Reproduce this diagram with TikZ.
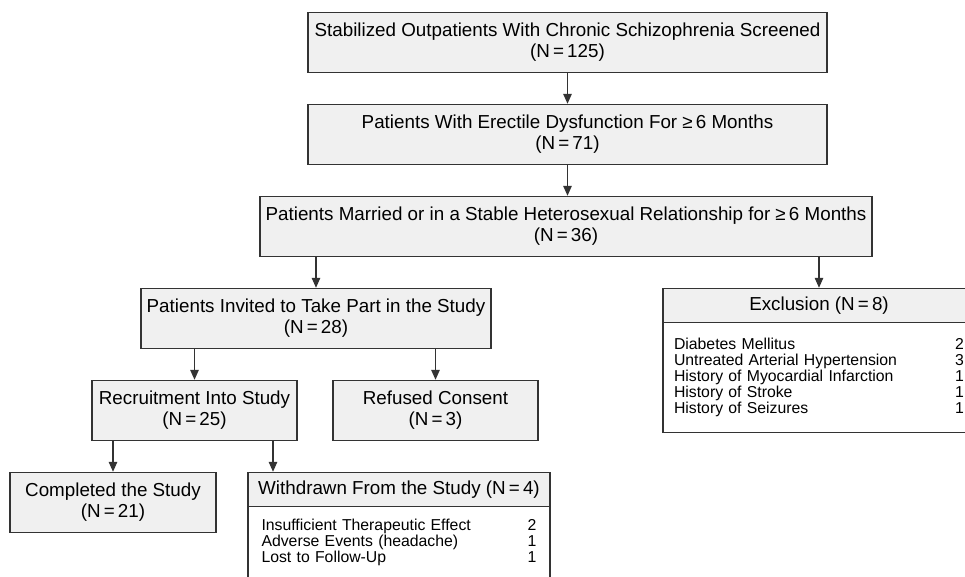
\documentclass[tikz,border=0pt]{standalone}
\usepackage{fontspec}
\setmainfont{Liberation Sans}
\usepackage{tikz}
\usetikzlibrary{positioning,arrows.meta}
\tikzset{
  block/.style={rectangle, draw=edge, fill=panel, line width=1.4pt, minimum height=60pt,
                inner sep=0pt, align=center, font=\fontsize{18.8}{21}\selectfont},
  head/.style={block, minimum height=34pt},
  list/.style={rectangle, draw=edge, fill=white, line width=1.4pt, inner sep=0pt,
               align=left, font=\fontsize{15.8}{16}\selectfont},
  arr/.style={-{Triangle[length=10pt, width=8.5pt]}, line width=1.3pt, draw=edge},
}
\definecolor{edge}{HTML}{333333}
\definecolor{panel}{HTML}{F0F0F0}
\begin{document}
\begin{tikzpicture}[x=1pt, y=-1pt, node distance=30.6pt]
    \clip (0,0) rectangle (965,576);
    \node[block, minimum width=519pt] (screened) at (567.5,42.5)
      {Stabilized Outpatients With Chronic Schizophrenia Screened\\(N\,=\,125)};
    \node[block, minimum width=519pt, below=of screened] (erectile)
      {Patients With Erectile Dysfunction For ≥\,6 Months\\(N\,=\,71)};
    \node[block, minimum width=612pt, below=of erectile, xshift=-1.5pt] (married)
      {Patients Married or in a Stable Heterosexual Relationship for ≥\,6 Months\\(N\,=\,36)};
    \node[block, minimum width=350pt, below=of married, xshift=-250pt] (invited)
      {Patients Invited to Take Part in the Study\\(N\,=\,28)};
    \node[head, minimum width=312pt, below=of married, xshift=253pt] (exclhead)
      {Exclusion (N\,=\,8)};
    \node[list, minimum width=312pt, minimum height=110pt, text width=290pt,
          below=-1.4pt of exclhead] (excllist)
      {Diabetes Mellitus\hfill 2\\
       Untreated Arterial Hypertension\hfill 3\\
       History of Myocardial Infarction\hfill 1\\
       History of Stroke\hfill 1\\
       History of Seizures\hfill 1};
    \node[block, minimum width=205pt, below=of invited, xshift=-121.5pt] (recruit)
      {Recruitment Into Study\\(N\,=\,25)};
    \node[block, minimum width=205pt, below=of invited, xshift=119.5pt] (refused)
      {Refused Consent\\(N\,=\,3)};
    \node[block, minimum width=206pt, below=of recruit, xshift=-81.5pt] (completed)
      {Completed the Study\\(N\,=\,21)};
    \node[head, minimum width=302pt, below=of recruit, xshift=204.5pt] (wdhead)
      {Withdrawn From the Study (N\,=\,4)};
    \node[list, minimum width=302pt, minimum height=72pt, text width=275pt,
          below=-1.4pt of wdhead] (wdlist)
      {Insufficient Therapeutic Effect\hfill 2\\
       Adverse Events (headache)\hfill 1\\
       Lost to Follow-Up\hfill 1};
    \draw[arr] (screened) -- (erectile);
    \draw[arr] (erectile.south) -- (erectile.south |- married.north);
    \draw[arr] (married.south -| invited.north) -- (invited.north);
    \draw[arr] (married.south -| exclhead.north) -- (exclhead.north);
    \draw[arr] (invited.south -| recruit.north) -- (recruit.north);
    \draw[arr] (invited.south -| refused.north) -- (refused.north);
    \draw[arr] (recruit.south -| completed.north) -- (completed.north);
    \draw[arr] ([xshift=78.5pt]recruit.south) -- ([xshift=78.5pt]recruit.south |- wdhead.north);
  \end{tikzpicture}
\end{document}
